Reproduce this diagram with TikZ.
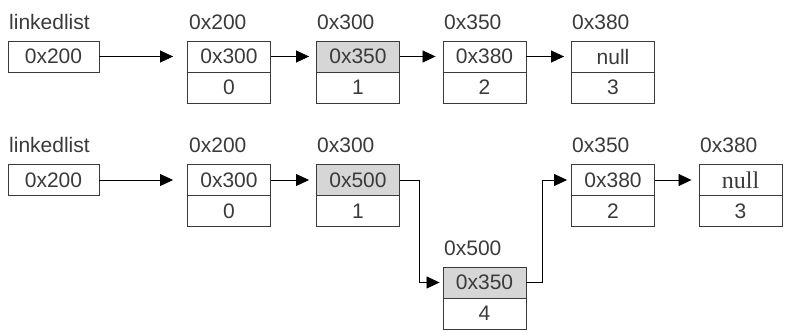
\documentclass[tikz,border=0pt]{standalone}
\usepackage{fontspec}
\setmainfont{Liberation Sans}
\newfontfamily\serifnull{Liberation Serif}
\usetikzlibrary{arrows.meta,calc}
\definecolor{ink}{HTML}{3A3A3A}
\definecolor{shade}{HTML}{D6D6D6}
\tikzset{
  cell/.style={draw=ink, line width=0.9pt, minimum height=31pt, inner sep=0pt,
    text=ink, font=\fontsize{21}{22}\selectfont, anchor=center},
  nodecell/.style={cell, minimum width=83pt},
  headcell/.style={cell, minimum width=91pt},
  shaded/.style={fill=shade},
  addr/.style={anchor=west, inner sep=0pt, text=ink, font=\fontsize{21}{22}\selectfont},
  link/.style={draw=black, line width=0.8pt, -{Triangle[length=13pt,width=12pt]}, shorten >=7pt},
}
\begin{document}
\begin{tikzpicture}[x=1pt,y=-1pt]
\useasboundingbox (0,0) rectangle (789,332);
% ---------- top list ----------
\node[addr] (lbl1) at (9,22) {linkedlist};
\node[headcell] (L1) at (53.5,56.5) {0x200};
\node[addr] (la1) at (189,22) {0x200};
\node[nodecell] (N1t) at (229,56.5) {0x300};
\node[nodecell] (N1b) at (229,87.5) {0};
\node[addr] (la2) at (317,22) {0x300};
\node[nodecell,shaded] (N2t) at (358,56.5) {0x350};
\node[nodecell] (N2b) at (358,87.5) {1};
\node[addr] (la3) at (444,22) {0x350};
\node[nodecell] (N3t) at (484.5,56.5) {0x380};
\node[nodecell] (N3b) at (484.5,87.5) {2};
\node[addr] (la4) at (572,22) {0x380};
\node[nodecell] (N4t) at (613,56.5) {null};
\node[nodecell] (N4b) at (613,87.5) {3};
\draw[link, shorten >=14pt] (L1.east) -- (N1t.west);
\draw[link] (N1t.east) -- (N2t.west);
\draw[link] (N2t.east) -- (N3t.west);
\draw[link] (N3t.east) -- (N4t.west);
% ---------- bottom list ----------
\node[addr] (lbl2) at (9,145) {linkedlist};
\node[headcell] (L2) at (53.5,180) {0x200};
\node[addr] (lb1) at (189,145) {0x200};
\node[nodecell] (M1t) at (229,180) {0x300};
\node[nodecell] (M1b) at (229,211) {0};
\node[addr] (lb2) at (317,145) {0x300};
\node[nodecell,shaded] (M2t) at (358,180) {0x500};
\node[nodecell] (M2b) at (358,211) {1};
\node[addr] (lb5) at (444,248) {0x500};
\node[nodecell,shaded] (M5t) at (484.5,282.5) {0x350};
\node[nodecell] (M5b) at (484.5,313.5) {4};
\node[addr] (lb3) at (572,145) {0x350};
\node[nodecell] (M3t) at (613,180) {0x380};
\node[nodecell] (M3b) at (613,211) {2};
\node[addr] (lb4) at (700,145) {0x380};
\node[nodecell] (M4t) at (740.5,180) {\serifnull\fontsize{24}{25}\selectfont null};
\node[nodecell] (M4b) at (740.5,211) {3};
\draw[link, shorten >=14pt] (L2.east) -- (M1t.west);
\draw[link] (M1t.east) -- (M2t.west);
\draw[link, shorten >=3pt] (M2t.east) -- ++(19,0) |- (M5t.west);
\draw[link, shorten >=4pt] (M5t.east) -- ++(16,0) |- (M3t.west);
\draw[link] (M3t.east) -- (M4t.west);
\end{tikzpicture}
\end{document}
